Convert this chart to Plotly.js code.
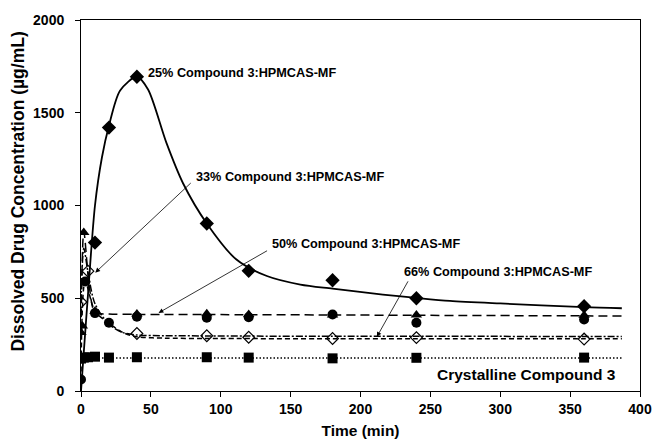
<!DOCTYPE html>
<html>
<head>
<meta charset="utf-8">
<script src="https://cdn.plot.ly/plotly-3.0.1.min.js"></script>
<style>html,body{margin:0;padding:0;background:#fff;}#chart{width:654px;height:439px;}</style>
</head>
<body>
<div id="chart"></div>
<script>
// ---- measured data points ----
const time25 = [10, 20, 40, 90, 120, 180, 240, 360];
const val25  = [800, 1420, 1694, 903, 648, 597, 500, 457];

const time33 = [0, 5, 40, 90, 120, 180, 240, 360];
const val33  = [480, 646, 310, 298, 290, 283, 288, 280];

const time50 = [0, 1, 2, 10, 40, 90, 120, 180, 240, 360];
const val50  = [315, 350, 855, 430, 415, 416, 413, 410, 410, 408];

const time66 = [0, 3, 10, 20, 40, 90, 120, 180, 240, 360];
const val66  = [62, 590, 420, 368, 400, 395, 398, 412, 368, 385];

const timeCr = [0, 2, 5, 10, 20, 40, 90, 120, 180, 240, 360];
const valCr  = [175, 180, 182, 185, 180, 182, 182, 180, 176, 179, 180];

// ---- trend curves ----
const fitT25 = [0, 2, 5, 10, 15, 20, 28, 40, 48, 61, 73, 90, 111, 133, 157, 180, 216, 240, 264, 300, 360, 387];
const fitV25 = [0, 210, 520, 1000, 1260, 1430, 1620, 1694, 1625, 1340, 1120, 903, 710, 620, 574, 552, 520, 502, 486, 472, 452, 446];

const fitT33 = [0, 2, 5, 10, 20, 30, 40, 60, 90, 120, 180, 240, 360, 387];
const fitV33 = [480, 770, 640, 470, 360, 315, 302, 298, 297, 296, 295, 295, 294, 294];

const fitT50 = [0, 2, 6, 10, 20, 40, 90, 180, 240, 360, 387];
const fitV50 = [320, 860, 560, 425, 415, 413, 412, 410, 408, 405, 404];

const fitT66 = [0, 3, 10, 20, 30, 40, 60, 90, 180, 240, 360, 387];
const fitV66 = [60, 590, 430, 365, 315, 292, 285, 283, 282, 282, 281, 281];

const fitTCr = [0, 387];
const fitVCr = [178, 178];

const labels = {
  c25: "25% Compound 3:HPMCAS-MF",
  c33: "33% Compound 3:HPMCAS-MF",
  c50: "50% Compound 3:HPMCAS-MF",
  c66: "66% Compound 3:HPMCAS-MF",
  cr:  "Crystalline Compound 3"
};
const xTitle = "Time (min)";
const yTitle = "Dissolved Drug Concentration (µg/mL)";

const K = '#000';
function lineTrace(x, y, dash, w) {
  return {x: x, y: y, mode: 'lines', type: 'scatter', hoverinfo: 'skip',
    line: {color: K, width: w, dash: dash, shape: 'spline', smoothing: 0.8}, showlegend: false};
}
function markTrace(x, y, sym, size) {
  return {x: x, y: y, mode: 'markers', type: 'scatter', showlegend: false,
    marker: {symbol: sym, size: size, color: K, line: {color: K, width: 0}}};
}

const traces = [
  lineTrace(fitTCr, fitVCr, '1.5px,2px', 1.5),
  lineTrace(fitT66, fitV66, '5px,3px', 1.5),
  lineTrace(fitT33, fitV33, '7px,2px,2px,2px', 1.5),
  lineTrace(fitT50, fitV50, '9px,5px', 1.5),
  lineTrace(fitT25, fitV25, 'solid', 1.8),
  markTrace(timeCr, valCr, 'square', 10),
  markTrace(time66, val66, 'circle', 10),
  markTrace(time50, val50, 'triangle-up', 10),
  {x: time33, y: val33, mode: 'markers', type: 'scatter', showlegend: false,
    marker: {symbol: 'diamond-open', size: 9, color: K, line: {color: K, width: 1.2}}},
  markTrace(time25, val25, 'diamond', 11)
];

const fam = 'Liberation Sans, Arial, sans-serif';
const annF = {family: fam, size: 12.7, color: K, weight: 'bold'};
const crF = {family: fam, size: 15.5, color: K, weight: 'bold'};
const tickF = {family: fam, size: 14, color: K, weight: 'bold'};
const titleF = {family: fam, size: 15.5, color: K, weight: 'bold'};
const yTitleF = {family: fam, size: 17.5, color: K, weight: 'bold'};

function txt(x, y, t, f) {
  return {x: x, y: y, xref: 'x', yref: 'y', text: t, showarrow: false,
    xanchor: 'left', yanchor: 'middle', font: f || annF};
}
function arr(x, y, ax, ay) {
  return {x: x, y: y, xref: 'x', yref: 'y', text: '', showarrow: true,
    ax: ax, ay: ay, arrowhead: 2, arrowsize: 1.2, arrowwidth: 0.8, arrowcolor: K, standoff: 0};
}

const layout = {
  width: 654, height: 439,
  margin: {l: 81, r: 14, t: 20, b: 48},
  paper_bgcolor: '#fff', plot_bgcolor: '#fff',
  font: annF,
  xaxis: {range: [0, 400], dtick: 50, tick0: 0, showgrid: false, zeroline: false,
    showline: true, linecolor: K, linewidth: 1.2, mirror: true,
    ticks: 'outside', ticklen: 5, tickcolor: K, tickfont: tickF,
    title: {text: xTitle, font: titleF, standoff: 9}},
  yaxis: {range: [0, 2000], dtick: 500, tick0: 0, showgrid: false, zeroline: false,
    showline: true, linecolor: K, linewidth: 1.2, mirror: true,
    ticks: 'outside', ticklen: 5, tickcolor: K, tickfont: tickF,
    ticksuffix: '\u00a0\u00a0'},
  annotations: [
    {text: yTitle, xref: 'paper', yref: 'paper', x: -0.1127, y: 0.5377,
      textangle: -90, showarrow: false, xanchor: 'center', yanchor: 'middle', font: yTitleF},
    txt(46.5, 1717, labels.c25),
    txt(81, 1156, labels.c33),
    txt(135, 795, labels.c50),
    txt(230, 640, labels.c66),
    txt(253, 88, labels.cr, crF),
    arr(10.2, 638, 97, -91),
    arr(55.5, 421, 110, -63),
    arr(211.7, 292, 32, -57)
  ]
};

Plotly.newPlot('chart', traces, layout, {displayModeBar: false, staticPlot: true});
</script>
</body>
</html>
